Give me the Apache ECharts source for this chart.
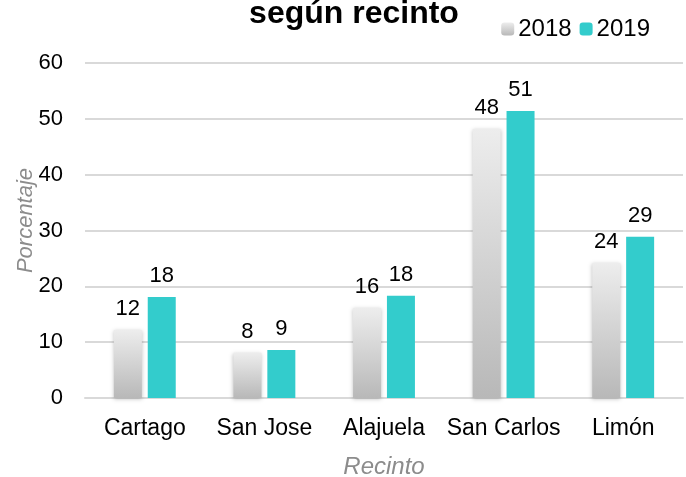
<!DOCTYPE html>
<html>
<head>
<meta charset="utf-8">
<script src="https://cdn.jsdelivr.net/npm/echarts@6/dist/echarts.min.js"></script>
<style>
  html, body {margin: 0; padding: 0; background: #fff;}
  #chart {width: 686px; height: 477px;}
</style>
</head>
<body>
<div id="chart"></div>
<script>
var recintos = ['Cartago', 'San Jose', 'Alajuela', 'San Carlos', 'Limón'];
var datos2018 = [12.2, 8.1, 16.1, 48.2, 24.2];
var datos2019 = [18.1, 8.6, 18.3, 51.4, 28.9];

var chart = echarts.init(document.getElementById('chart'));

var fuente = '"Liberation Sans", Arial, sans-serif';

var etiqueta = {
    show: true,
    position: 'top',
    distance: 10,
    color: '#000',
    fontSize: 22,
    fontFamily: fuente,
    formatter: function (p) { return Math.round(p.value); }
};

chart.setOption({
    animation: false,
    title: {
        text: 'según recinto',
        left: 349,
        textAlign: 'center',
        top: -7,
        textStyle: {fontSize: 32, fontWeight: 'bold', color: '#000', fontFamily: fuente}
    },
    legend: {
        data: ['2018', '2019'],
        right: 31,
        top: 12,
        itemWidth: 13,
        itemHeight: 13,
        itemGap: 8,
        textStyle: {fontSize: 24, color: '#000', fontFamily: fuente, padding: [0, 0, 0, -1]}
    },
    grid: {left: 85, right: 3, top: 63, bottom: 79, outerBoundsMode: 'none', containLabel: false},
    xAxis: {
        type: 'category',
        data: recintos,
        name: 'Recinto',
        nameLocation: 'middle',
        nameGap: 57,
        nameTextStyle: {fontSize: 24, fontStyle: 'italic', color: '#8c8c8c', fontFamily: fuente},
        axisLine: {lineStyle: {color: '#d9d9d9', width: 2}},
        axisTick: {show: false},
        axisLabel: {interval: 0, fontSize: 23, color: '#000', fontFamily: fuente, margin: 19}
    },
    yAxis: {
        type: 'value',
        min: 0,
        max: 60,
        interval: 10,
        name: 'Porcentaje',
        nameLocation: 'middle',
        nameGap: 48,
        nameMoveOverlap: false,
        nameTextStyle: {fontSize: 22, fontStyle: 'italic', color: '#8c8c8c', fontFamily: fuente, padding: [0, 0, 0, 20]},
        axisLine: {show: false},
        axisTick: {show: false},
        axisLabel: {fontSize: 22, color: '#000', fontFamily: fuente, margin: 22},
        splitLine: {lineStyle: {color: '#d9d9d9', width: 2}}
    },
    series: [
        {
            name: '2018',
            type: 'bar',
            data: datos2018,
            barWidth: 28,
            barGap: '21%',
            itemStyle: {
                color: new echarts.graphic.LinearGradient(0, 0, 0, 1, [
                    {offset: 0, color: '#ededed'},
                    {offset: 1, color: '#b8b8b8'}
                ]),
                shadowColor: 'rgba(0,0,0,0.25)',
                shadowBlur: 4,
                shadowOffsetY: 1
            },
            label: etiqueta
        },
        {
            name: '2019',
            type: 'bar',
            data: datos2019,
            barWidth: 28,
            itemStyle: {color: '#33cccc'},
            label: etiqueta
        }
    ]
});
</script>
</body>
</html>
